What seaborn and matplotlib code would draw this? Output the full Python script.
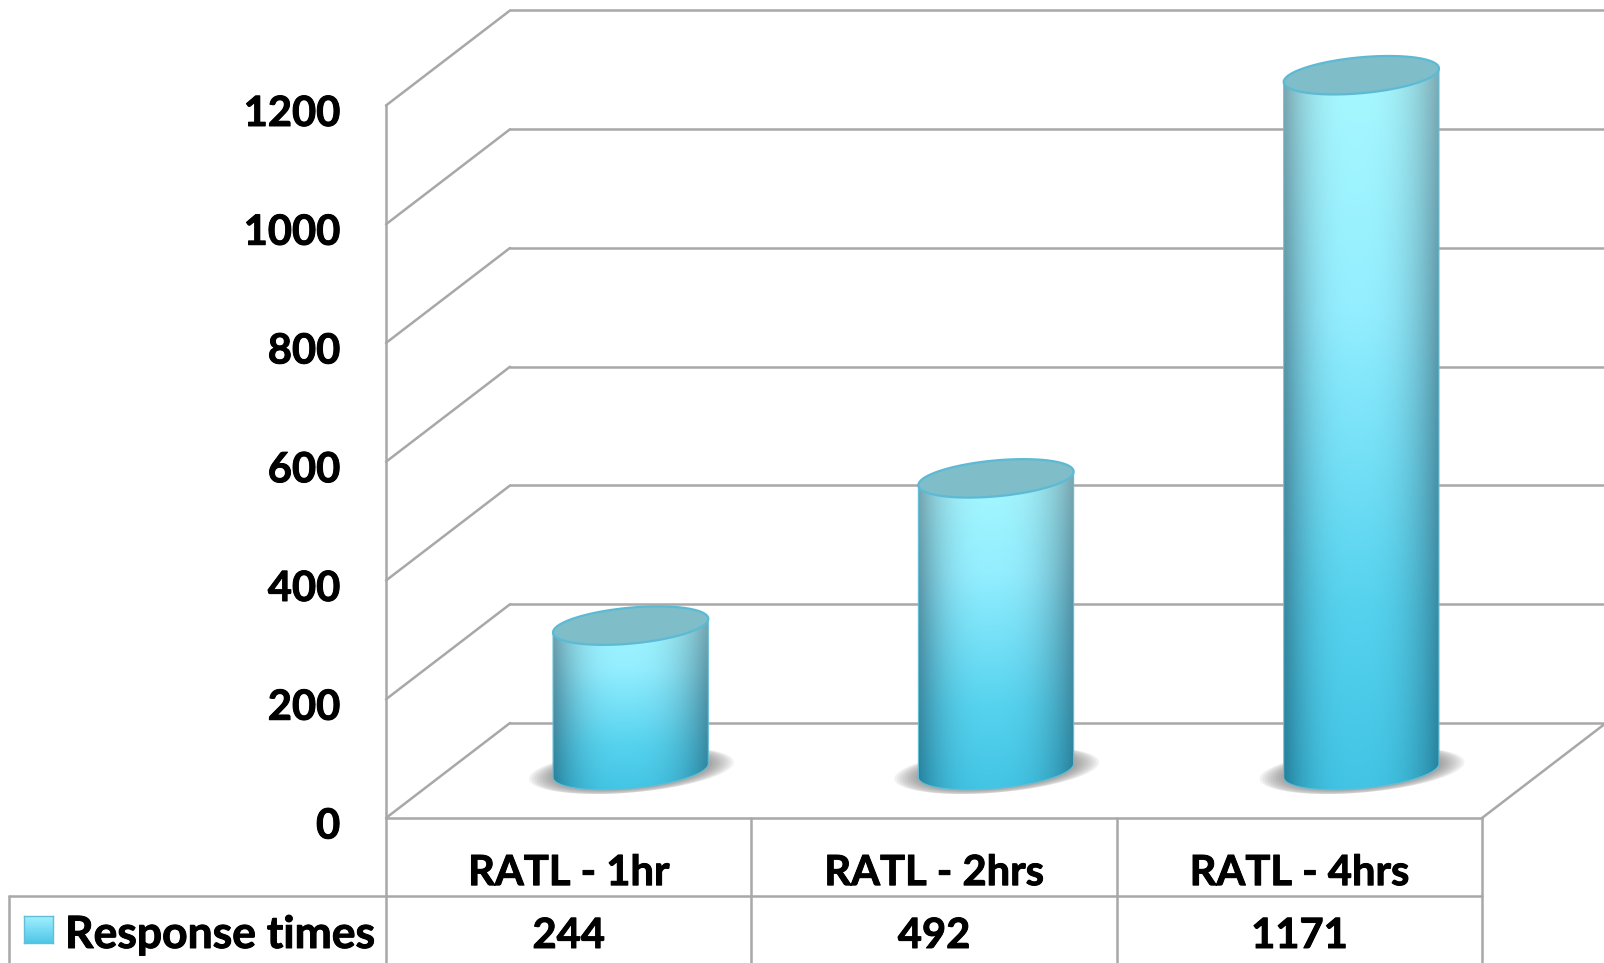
import numpy as np
import pandas as pd
import matplotlib
matplotlib.use("Agg")
import matplotlib.pyplot as plt
import matplotlib.patheffects as pe
import seaborn as sns
from matplotlib.colors import to_rgb
from matplotlib.lines import Line2D
from matplotlib.patches import Polygon
from matplotlib.transforms import Affine2D, blended_transform_factory

# Chart data
categories = ["RATL - 1hr", "RATL - 2hrs", "RATL - 4hrs"]
response_times = [244, 492, 1171]
series_name = "Response times"
value_ticks = [0, 200, 400, 600, 800, 1000, 1200]

GRID = "#A8A8A8"
W, H = 1604, 963
FRONT_L, FRONT_R, FRONT_B, FRONT_T = 386, 1482, 818, 105.5
DEPTH_X, DEPTH_Y = 124, 95          # pixels from the front plane to the back wall
ROW_Y = 896
PX_PER_VALUE = (FRONT_B - FRONT_T) / 1200
PX_PER_CAT = (FRONT_R - FRONT_L) / 3
FONT_SIZE = 30
CAP_MINOR_PX, CAP_SHEAR_PX = 18.0, 6.8
HEAVY = [pe.withStroke(linewidth=0.7, foreground="black")]

sns.set_theme(style="white")
plt.rcParams["font.family"] = ["Lato", "DejaVu Sans"]
plt.rcParams["font.weight"] = "bold"

fig = plt.figure(figsize=(W / 100, H / 100), dpi=100, facecolor="white")
ax = fig.add_axes([FRONT_L / W, 1 - FRONT_B / H,
                   (FRONT_R - FRONT_L) / W, (FRONT_B - FRONT_T) / H])
ax.patch.set_alpha(0)

frame = pd.DataFrame({"run": categories, "ms": response_times})
sns.barplot(data=frame, x="run", y="ms", ax=ax, width=0.425, color="#4CCDEA", zorder=3)
ax.set_xlim(-0.5, 2.5)
ax.set_ylim(0, 1200)
ax.set_xlabel("")
ax.set_ylabel("")
ax.set_yticks(value_ticks)
ax.set_xticks(range(len(categories)), categories)
ax.tick_params(axis="y", length=0, pad=33, labelsize=FONT_SIZE, labelcolor="black")
ax.tick_params(axis="x", length=0, pad=26, labelsize=FONT_SIZE, labelcolor="black")
for lab in ax.get_yticklabels():
    lab.set_fontweight("bold")
    lab.set_path_effects(HEAVY)
    lab.set_transform(lab.get_transform() + Affine2D().translate(0, -5))
for lab in ax.get_xticklabels():
    lab.set_fontweight("bold")
    lab.set_path_effects(HEAVY)
sns.despine(ax=ax, top=True, right=True, left=False, bottom=False)
for side in ("left", "bottom"):
    ax.spines[side].set_color(GRID)
    ax.spines[side].set_linewidth(1.8)

# Transforms that push data coordinates back into the simulated depth
back = ax.transData + Affine2D().translate(DEPTH_X, DEPTH_Y)
mid = ax.transData + Affine2D().translate(DEPTH_X / 2, DEPTH_Y / 2)

# Back-wall gridlines and the diagonals joining them to the front plane
x0, x1 = ax.get_xlim()
for v in value_ticks:
    ax.plot([x0, x1], [v, v], color=GRID, lw=1.8, transform=back, clip_on=False, zorder=1)
    ax.add_line(Line2D([FRONT_L, FRONT_L + DEPTH_X],
                       [ax.transData.transform((0, v))[1],
                        ax.transData.transform((0, v))[1] + DEPTH_Y],
                       color=GRID, lw=1.8, transform=None, clip_on=False, zorder=1))
ax.add_line(Line2D([FRONT_R, FRONT_R + DEPTH_X],
                   [ax.transData.transform((0, 0))[1],
                    ax.transData.transform((0, 0))[1] + DEPTH_Y],
                   color=GRID, lw=1.8, transform=None, clip_on=False, zorder=1))
ax.set_xlim(x0, x1)
ax.set_ylim(0, 1200)


def ellipse_outline(cx, cy, half_w, grow=1.0, n=120):
    """Sheared ellipse, in data units, tilted up to the right like the cylinder caps."""
    t = np.linspace(0, 2 * np.pi, n)
    a = half_w * grow
    minor = CAP_MINOR_PX / PX_PER_VALUE * grow
    shear = CAP_SHEAR_PX / PX_PER_VALUE * grow
    return np.column_stack([cx + a * np.cos(t), cy + shear * np.cos(t) + minor * np.sin(t)])


def cylinder_gradient(ny=220, nx=160):
    """Shaded RGBA surface: bright central band, darker rim, lighter towards the top."""
    v = np.linspace(0, 1, ny)[:, None]
    u = np.linspace(0, 1, nx)[None, :]
    stops = [0.0, 0.35, 0.75, 1.0]
    centre = np.stack([np.interp(v, stops, [to_rgb(c)[i] for c in
                       ("#A9F9FF", "#93EEFF", "#55D2EE", "#42C4E4")]) for i in range(3)], axis=-1)
    rim = np.stack([np.interp(v, [0, 0.5, 1], [to_rgb(c)[i] for c in
                    ("#7FA9B2", "#4E8FA3", "#23809C")]) for i in range(3)], axis=-1)
    w = np.where(u < 0.46, (0.46 - u) / 0.46, (u - 0.46) / 0.54) ** 2.6
    return centre * (1 - w[..., None]) + rim * w[..., None]


for bar, value in zip(list(ax.patches), response_times):
    cx = bar.get_x() + bar.get_width() / 2
    half = bar.get_width() / 2
    bar.set_visible(False)
    shear = CAP_SHEAR_PX / PX_PER_VALUE

    # Soft contact shadow on the floor
    for g in np.linspace(1.32, 0.8, 16):
        shadow = ellipse_outline(cx + 0.002, 0, half, grow=g)
        shadow[:, 1] *= 1.22 / g if g > 1.22 else 1.0
        ax.add_patch(Polygon(shadow, closed=True, fc="#5A5A5A", ec="none", alpha=0.075,
                             transform=mid, clip_on=False, zorder=2))

    # Cylinder body: gradient image clipped to the side silhouette
    bottom = ellipse_outline(cx, 0, half)
    top = ellipse_outline(cx, value, half)
    lower = bottom[bottom[:, 1] <= (bottom[:, 0] - cx) / half * shear + 1e-6]
    lower = lower[np.argsort(lower[:, 0])]
    side = np.vstack([lower, [[cx + half, value + shear]], [[cx - half, value - shear]]])
    body = Polygon(side, closed=True, transform=mid)
    im = ax.imshow(cylinder_gradient(), extent=(cx - half, cx + half, -40, value + 40),
                   origin="upper", aspect="auto", transform=mid, zorder=3, interpolation="bilinear")
    im.set_clip_path(body)
    im.set_clip_box(fig.bbox)
    ax.add_patch(Polygon(side, closed=True, fc="none", ec="#62BFD6", lw=0.8,
                         transform=mid, clip_on=False, zorder=4))
    ax.add_patch(Polygon(top, closed=True, fc="#7FBDC9", ec="#5CBAD4", lw=1.6,
                         transform=mid, clip_on=False, zorder=5))
ax.set_xlim(x0, x1)
ax.set_ylim(0, 1200)
ax.set_aspect("auto")


# Data table under the plot
def rule(xa, ya, xb, yb, lw=1.8):
    fig.add_artist(Line2D([xa / W, xb / W], [1 - ya / H, 1 - yb / H], color=GRID, lw=lw))


rule(9, ROW_Y, FRONT_R, ROW_Y)
rule(9, ROW_Y, 9, H)
for k in range(len(categories) + 1):
    xp = FRONT_L + k * PX_PER_CAT
    rule(xp, FRONT_B, xp, H)

row_tf = blended_transform_factory(ax.transData, fig.transFigure)
for i, value in enumerate(response_times):
    ax.text(i, 1 - 948 / H, str(value), transform=row_tf, ha="center", va="baseline",
            fontsize=FONT_SIZE, fontweight="bold", color="black", clip_on=False,
            path_effects=HEAVY)

# Legend key and series name in the first table row
key_ax = fig.add_axes([24 / W, 1 - 943 / H, 29 / W, 27 / H])
key = np.stack([np.interp(np.linspace(0, 1, 50), [0, 1], [to_rgb("#A4F1FF")[i], to_rgb("#4FC7E8")[i]])
                for i in range(3)], axis=-1)[:, None, :]
key_ax.imshow(key, aspect="auto", interpolation="bilinear")
key_ax.set_xticks([])
key_ax.set_yticks([])
for s in key_ax.spines.values():
    s.set_color("#62BFD6")
    s.set_linewidth(1.0)
fig.text(65 / W, 1 - 948 / H, series_name, ha="left", va="baseline", fontsize=32,
         fontweight="bold", color="black", path_effects=HEAVY)

fig.savefig("out.png", dpi=100, facecolor="white")
